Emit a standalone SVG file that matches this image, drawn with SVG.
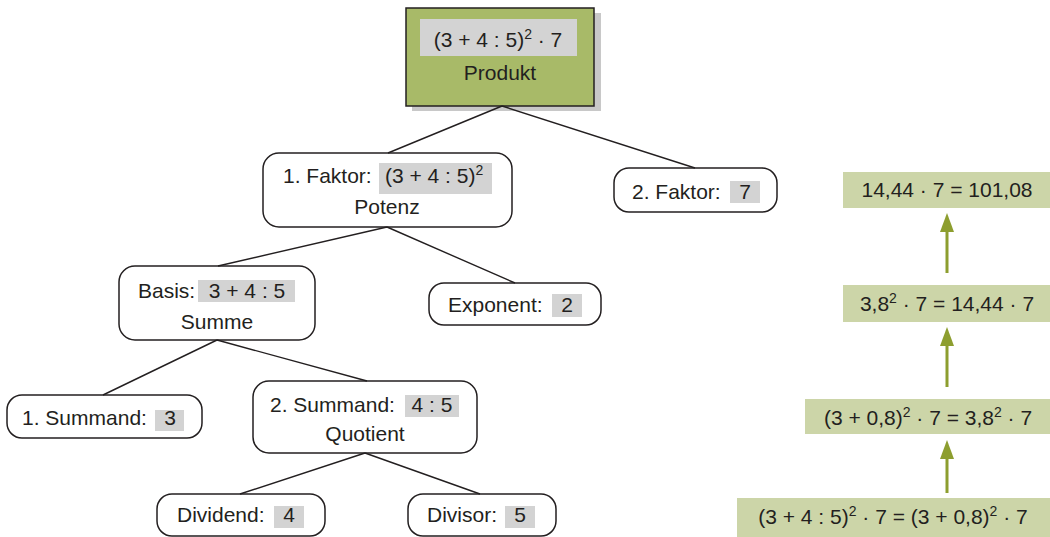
<svg xmlns="http://www.w3.org/2000/svg" width="1050" height="537" viewBox="0 0 1050 537">
<style>
text{font-family:"Liberation Sans",Arial,sans-serif;font-size:21px;fill:#231f20}
.c{text-anchor:middle}
.sup{font-size:14px}
.node{fill:#fff;stroke:#231f20;stroke-width:1.5}
.val{fill:#d3d3d3}
.res{fill:#ccd5a8}
.conn{stroke:#231f20;stroke-width:1.4;fill:none}
.arr{stroke:#8d9e2f;stroke-width:3;fill:none}
.head{fill:#8d9e2f}
</style>
<rect width="1050" height="537" fill="#fff"/>
<g id="produkt">
<rect x="412" y="13" width="189" height="98" fill="#c8c8c8"/>
<rect x="406" y="8" width="188" height="98" fill="#a8ba68" stroke="#231f20" stroke-width="1.5"/>
<rect class="val" x="420" y="19" width="157" height="37"/>
<text class="c" x="498" y="47">(3 + 4 : 5)<tspan class="sup" dy="-8">2</tspan><tspan dy="8"> · 7</tspan></text>
<text class="c" x="500" y="80">Produkt</text>
</g>
<g id="faktor1">
<rect class="node" x="263" y="153" width="249" height="74" rx="16"/>
<rect class="val" x="379" y="163" width="113" height="31"/>
<text x="283" y="183">1. Faktor:</text>
<text x="385" y="183">(3 + 4 : 5)<tspan class="sup" dy="-8">2</tspan></text>
<text class="c" x="387" y="214">Potenz</text>
</g>
<g id="faktor2">
<rect class="node" x="614" y="168" width="163" height="44" rx="15"/>
<rect class="val" x="730" y="181" width="30" height="22"/>
<text x="632" y="199">2. Faktor:</text>
<text class="c" x="745" y="199">7</text>
</g>
<g id="basis">
<rect class="node" x="119" y="266" width="196" height="74" rx="16"/>
<rect class="val" x="198" y="280" width="97" height="22"/>
<text x="138" y="298">Basis:</text>
<text class="c" x="247" y="298">3 + 4 : 5</text>
<text class="c" x="217" y="329">Summe</text>
</g>
<g id="exponent">
<rect class="node" x="429" y="283" width="172" height="42" rx="15"/>
<rect class="val" x="552" y="294" width="30" height="23"/>
<text x="448" y="312">Exponent:</text>
<text class="c" x="567" y="312">2</text>
</g>
<g id="summand1">
<rect class="node" x="7" y="395" width="195" height="43" rx="15"/>
<rect class="val" x="155" y="410" width="29" height="21"/>
<text x="22" y="425">1. Summand:</text>
<text class="c" x="170" y="425">3</text>
</g>
<g id="summand2">
<rect class="node" x="253" y="381" width="224" height="72" rx="16"/>
<rect class="val" x="405" y="395" width="54" height="22"/>
<text x="270" y="412">2. Summand:</text>
<text class="c" x="432" y="412">4 : 5</text>
<text class="c" x="365" y="441">Quotient</text>
</g>
<g id="dividend">
<rect class="node" x="157" y="494" width="168" height="42" rx="15"/>
<rect class="val" x="274" y="506" width="30" height="22"/>
<text x="177" y="522">Dividend:</text>
<text class="c" x="289" y="522">4</text>
</g>
<g id="divisor">
<rect class="node" x="408" y="494" width="148" height="42" rx="15"/>
<rect class="val" x="505" y="506" width="30" height="22"/>
<text x="427" y="522">Divisor:</text>
<text class="c" x="520" y="522">5</text>
</g>
<g id="connectors">
<path class="conn" d="M502 106L388 153M502 106L695 168"/>
<path class="conn" d="M387 227L218 266M387 227L515 283"/>
<path class="conn" d="M217 340L103 395M217 340L367 381"/>
<path class="conn" d="M365 453L240 494M365 453L480 494"/>
</g>
<g id="res1">
<rect class="res" x="843" y="172" width="207" height="36"/>
<text class="c" x="947" y="197">14,44 · 7 = 101,08</text>
</g>
<g id="res2">
<rect class="res" x="843" y="285" width="207" height="37"/>
<text class="c" x="947" y="311">3,8<tspan class="sup" dy="-8">2</tspan><tspan dy="8"> · 7 = 14,44 · 7</tspan></text>
</g>
<g id="res3">
<rect class="res" x="805" y="399" width="245" height="35"/>
<text class="c" x="928" y="425">(3 + 0,8)<tspan class="sup" dy="-8">2</tspan><tspan dy="8"> · 7 = 3,8</tspan><tspan class="sup" dy="-8">2</tspan><tspan dy="8"> · 7</tspan></text>
</g>
<g id="res4">
<rect class="res" x="737" y="498" width="313" height="39"/>
<text class="c" x="893" y="524">(3 + 4 : 5)<tspan class="sup" dy="-8">2</tspan><tspan dy="8"> · 7 = (3 + 0,8)</tspan><tspan class="sup" dy="-8">2</tspan><tspan dy="8"> · 7</tspan></text>
</g>
<g id="arrows">
<path class="arr" d="M947 273V228M947 387V342M947 493V454"/>
<path class="head" d="M947 213L940 232H954Z"/>
<path class="head" d="M947 327L940 346H954Z"/>
<path class="head" d="M947 440L940 459H954Z"/>
</g>
</svg>
